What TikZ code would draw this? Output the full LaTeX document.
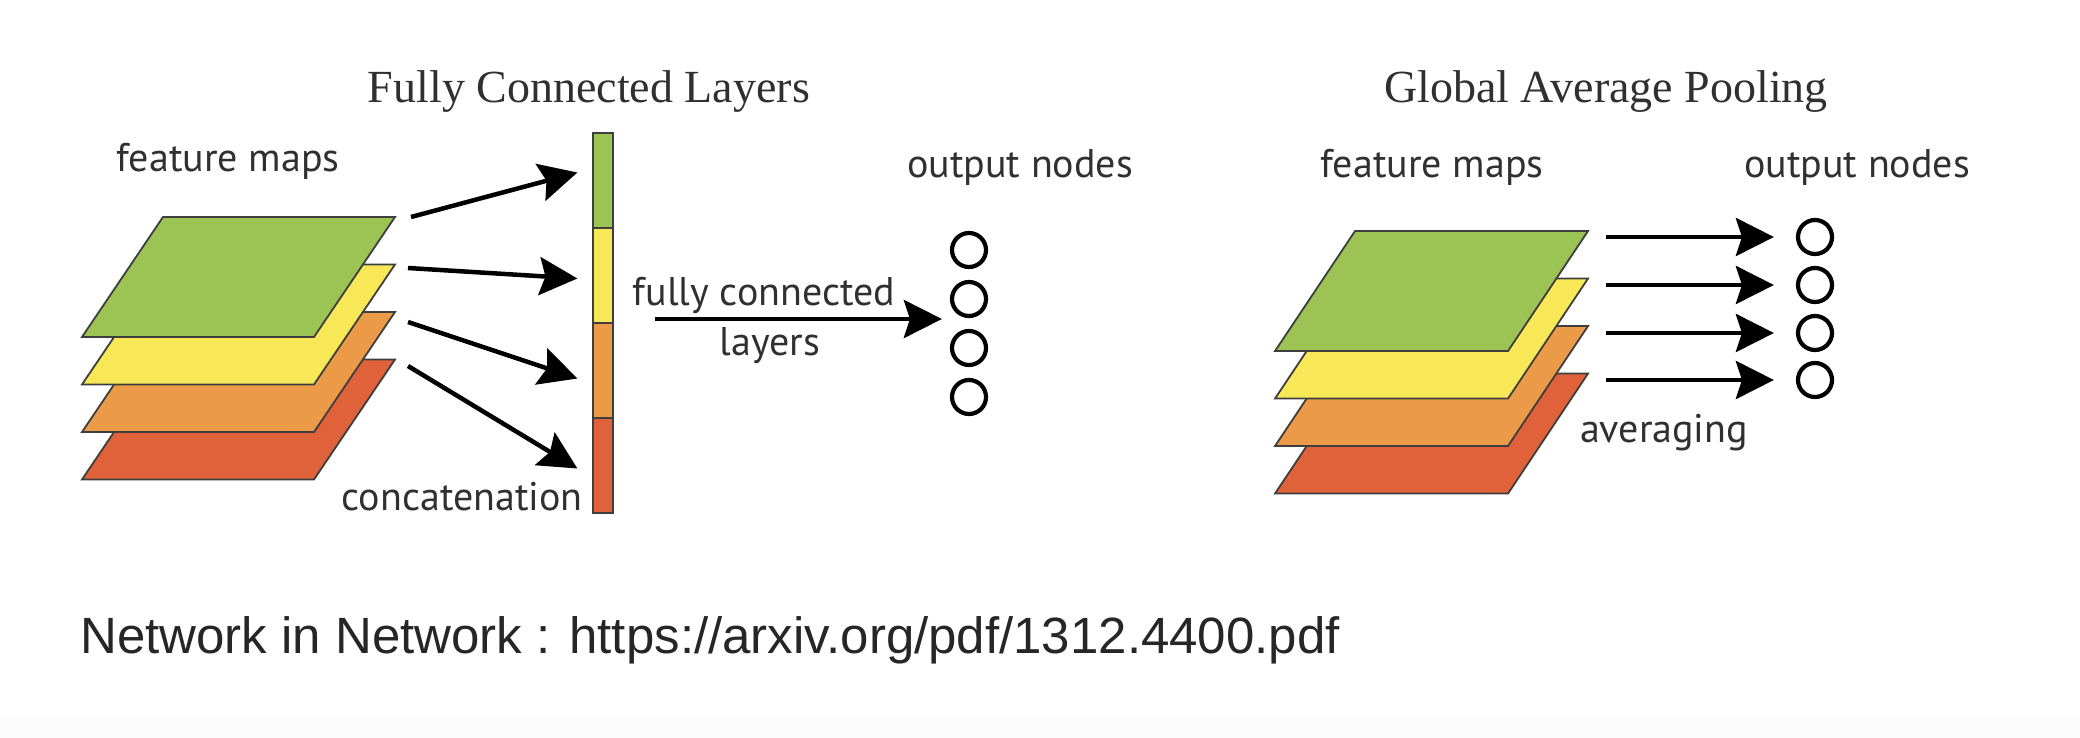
\documentclass[tikz,border=0pt]{standalone}
\usepackage{fontspec}
\usetikzlibrary{arrows.meta}
\newfontfamily\titlefont{Liberation Serif}
\newfontfamily\labelfont{PT Sans}
\newfontfamily\notefont{Liberation Sans}
\definecolor{mapgreen}{RGB}{156,196,85}
\definecolor{mapyellow}{RGB}{248,232,88}
\definecolor{maporange}{RGB}{235,155,71}
\definecolor{mapred}{RGB}{224,98,59}
\definecolor{edgegray}{RGB}{62,62,62}
\definecolor{textgray}{RGB}{48,48,48}
\definecolor{bandgray}{RGB}{252,252,252}
\tikzset{
  layer/.style={draw=edgegray, line width=1.8pt},
  barseg/.style={draw=edgegray, line width=1.2pt, minimum width=20pt, minimum height=95pt, inner sep=0pt},
  outnode/.style={circle, draw=black, line width=4.2pt, minimum size=34pt, inner sep=0pt},
  maparrow/.style={line width=4.5pt, -{Stealth[length=38pt, width=38pt, inset=6pt]}},
  ttl/.style={font=\titlefont\fontsize{46}{50}\selectfont, text=textgray, inner sep=0pt},
  lbl/.style={font=\labelfont\fontsize{40}{46}\selectfont, text=textgray, inner sep=0pt},
  note/.style={font=\notefont\fontsize{51}{56}\selectfont, text=black!85, inner sep=0pt}
}
\begin{document}
\begin{tikzpicture}[x=1pt,y=1pt,yscale=-1]
\useasboundingbox (0,0) rectangle (2080,738);
\fill[bandgray] (0,717) rectangle (2080,738);

%Feature maps, fully connected side
\foreach \i/\c in {3/mapred,2/maporange,1/mapyellow,0/mapgreen}
  \draw[layer, fill=\c] (82,{337+47.5*\i}) -- ++(232,0) -- ++(81,-120) -- ++(-232,0) -- cycle;

%Concatenated bar
\foreach \c [count=\i from 0] in {mapgreen,mapyellow,maporange,mapred}
  \node[barseg, fill=\c] (bar\i) at (603,{180.5+95*\i}) {};

%Arrows into the bar
\coordinate (fs0) at (411,217);
\coordinate (fs1) at (408,268);
\coordinate (fs2) at (408,322);
\coordinate (fs3) at (408,366);
\foreach \i/\dy in {0/-8,1/3,2/8,3/3}
  \draw[maparrow] (fs\i) -- ([shift={(-15,\dy)}]bar\i.west);

%Output nodes, fully connected side
\foreach \y [count=\i from 0] in {250,299,348,397}
  \node[outnode] (o\i) at (969,\y) {};

\coordinate (fcs) at (655,319);
\draw[maparrow, shorten >=8pt] (fcs) -- (fcs -| o1.west);

%Feature maps, global average pooling side
\foreach \i/\c in {3/mapred,2/maporange,1/mapyellow,0/mapgreen}
  \draw[layer, fill=\c] (1275,{351+47.5*\i}) -- ++(233,0) -- ++(80,-120) -- ++(-233,0) -- cycle;

%Output nodes and averaging arrows
\foreach \y [count=\i from 0] in {237,285,333,380}
  \node[outnode] (g\i) at (1815,\y) {};
\foreach \i in {0,...,3}
  \coordinate (gs\i) at ([xshift=-209]g\i.center);
\foreach \i in {0,...,3}
  \draw[maparrow, shorten >=22pt] (gs\i) -- (g\i.west);

% Text Node
\draw (589,103) node [ttl, anchor=base] (fctitle) {Fully Connected Layers};
% Text Node
\draw (1606,103) node [ttl, anchor=base] (gaptitle) {Global Average Pooling};
% Text Node
\draw (228,172) node [lbl, anchor=base] (fcmaps) {feature maps};
% Text Node
\draw (1020,178) node [lbl, anchor=base] (fcout) {output nodes};
% Text Node
\draw (583,510) node [lbl, anchor=base east] (concat) {concatenation};
% Text Node
\draw (764,305) node [lbl, anchor=base] (fctop) {fully connected};
% Text Node
\draw (770,355) node [lbl, anchor=base] (fcbot) {layers};
% Text Node
\draw (1432,178) node [lbl, anchor=base] (gapmaps) {feature maps};
% Text Node
\draw (1857,178) node [lbl, anchor=base] (gapout) {output nodes};
% Text Node
\draw (1664,442) node [lbl, anchor=base] (avg) {averaging};
% Text Node
\draw (80,653) node [note, anchor=base west] (ref) {Network in Network : https://arxiv.org/pdf/1312.4400.pdf};

\end{tikzpicture}
\end{document}
